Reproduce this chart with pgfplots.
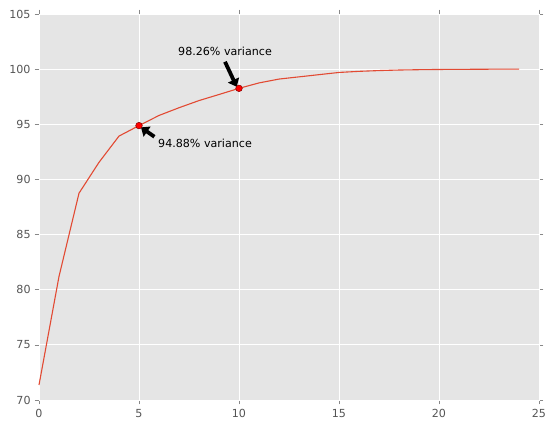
\documentclass[border=0pt]{standalone}
\usepackage{fontspec}
\setmainfont{DejaVu Sans}
\usepackage{pgfplots}
\pgfplotsset{compat=1.18}
\usetikzlibrary{arrows.meta,calc}
\definecolor{bgc}{HTML}{E5E5E5}
\definecolor{linec}{HTML}{E24A33}
\definecolor{tickc}{HTML}{555555}
\begin{document}
\begin{tikzpicture}
\begin{axis}[
  name=ax,
  width=500pt, height=386pt, scale only axis,
  xmin=0, xmax=25, ymin=70, ymax=105,
  xtick={0,5,10,15,20,25},
  ytick={70,75,80,85,90,95,100,105},
  axis background/.style={fill=bgc},
  axis line style={white},
  grid=major,
  major grid style={white, line width=0.8pt},
  tick align=outside,
  major tick length=4.4pt,
  tick style={tickc!70, line width=0.6pt},
  tick label style={font=\fontsize{11.1}{13}\selectfont, text=tickc},
  xticklabel style={yshift=-1.5pt},
  yticklabel style={xshift=-0.5pt},
  /pgf/number format/assume math mode=true,
  clip=false,
]
\addplot[linec, line width=1.1pt, mark=none] coordinates {
(0,71.36) (1,81.2) (2,88.75) (3,91.55) (4,93.93) (5,94.88) (6,95.8) (7,96.5)
(8,97.15) (9,97.7) (10,98.26) (11,98.75) (12,99.1) (13,99.3) (14,99.5)
(15,99.7) (16,99.8) (17,99.87) (18,99.92) (19,99.95) (20,99.97) (21,99.98)
(22,99.99) (23,100) (24,100)
};
\addplot[only marks, mark=*, mark size=3.3pt, mark options={fill=red, draw=red!50!black, line width=0.5pt}] coordinates {(5,94.88) (10,98.26)};
\draw[line width=3.8pt, -{Triangle[length=7.5pt,width=12pt]}] (axis cs:5.77,93.87) -- (axis cs:5.10,94.72);
\draw[line width=3.8pt, -{Triangle[length=7.5pt,width=12pt]}] (axis cs:9.30,100.67) -- (axis cs:9.885,98.40);
\node[anchor=base west, inner sep=0pt, font=\fontsize{11.1}{13}\selectfont] at (axis cs:5.95,92.87) {94.88\% variance};
\node[anchor=base west, inner sep=0pt, font=\fontsize{11.1}{13}\selectfont] at (axis cs:6.95,101.28) {98.26\% variance};
\end{axis}
\path ($(ax.south west)+(-39pt,-28pt)$) rectangle ($(ax.north east)+(11pt,14pt)$);
\end{tikzpicture}
\end{document}
